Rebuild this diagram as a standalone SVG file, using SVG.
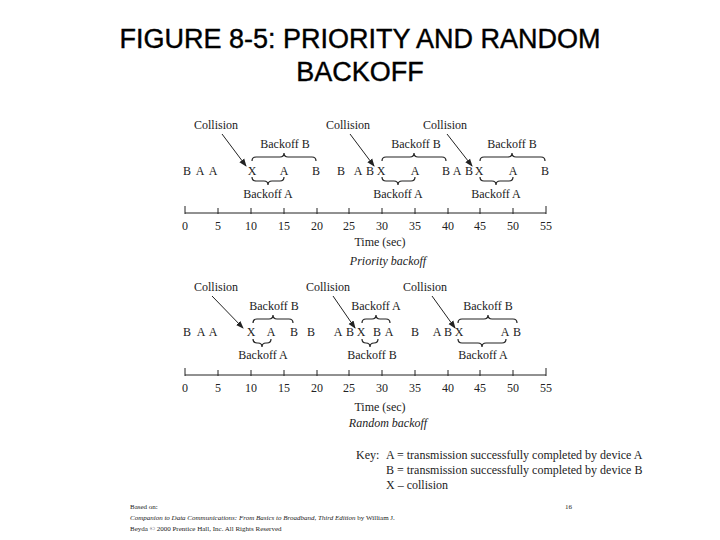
<svg xmlns="http://www.w3.org/2000/svg" width="720" height="540" viewBox="0 0 720 540">
<defs>
<style>
.t{font-family:"Liberation Serif",serif;font-size:12px;fill:#222}
.c{text-anchor:middle}
.i{font-style:italic}
.ln{stroke:#222;stroke-width:1;fill:none}
.br{stroke:#222;stroke-width:1.2;fill:none}
.title{font-family:"Liberation Sans",Arial,sans-serif;font-size:27px;fill:#000;text-anchor:middle;stroke:#000;stroke-width:0.4}
.f{font-family:"Liberation Serif",serif;font-size:7px;fill:#222}
</style>
<marker id="ah" markerWidth="8" markerHeight="8" refX="7" refY="4" orient="auto" markerUnits="userSpaceOnUse"><path d="M0,1 L8,4 L0,7 z" fill="#222"/></marker>
</defs>
<rect width="720" height="540" fill="#fff"/>
<text class="title" x="360" y="48">FIGURE 8-5: PRIORITY AND RANDOM</text>
<text class="title" x="360" y="81">BACKOFF</text>

<g id="priority">
<g class="t c">
<text x="216" y="129">Collision</text><text x="348" y="129">Collision</text><text x="445" y="129">Collision</text>
<text x="285" y="148">Backoff B</text><text x="416" y="148">Backoff B</text><text x="512" y="148">Backoff B</text>
<text x="187" y="175">B</text><text x="200" y="175">A</text><text x="213" y="175">A</text>
<text x="252" y="175">X</text><text x="284" y="175">A</text><text x="316" y="175">B</text>
<text x="341" y="175">B</text><text x="358" y="175">A</text><text x="370" y="175">B</text><text x="381" y="175">X</text><text x="415" y="175">A</text>
<text x="446" y="175">B</text><text x="457" y="175">A</text><text x="469" y="175">B</text><text x="479" y="175">X</text><text x="513" y="175">A</text><text x="545" y="175">B</text>
<text x="268" y="198">Backoff A</text><text x="398" y="198">Backoff A</text><text x="496" y="198">Backoff A</text>
<text x="185" y="230">0</text><text x="218" y="230">5</text><text x="251" y="230">10</text><text x="284" y="230">15</text><text x="317" y="230">20</text><text x="349" y="230">25</text><text x="382" y="230">30</text><text x="415" y="230">35</text><text x="448" y="230">40</text><text x="480" y="230">45</text><text x="513" y="230">50</text><text x="546" y="230">55</text>
<text x="380" y="246">Time (sec)</text>
<text x="388" y="265" class="i">Priority backoff</text>
</g>
</g>

<g id="random">
<g class="t c">
<text x="216" y="291">Collision</text><text x="328" y="291">Collision</text><text x="425" y="291">Collision</text>
<text x="274" y="310">Backoff B</text><text x="376" y="310">Backoff A</text><text x="488" y="310">Backoff B</text>
<text x="187" y="336">B</text><text x="201" y="336">A</text><text x="213" y="336">A</text>
<text x="251" y="336">X</text><text x="271" y="336">A</text><text x="294" y="336">B</text><text x="311" y="336">B</text>
<text x="338" y="336">A</text><text x="350" y="336">B</text><text x="361" y="336">X</text><text x="377" y="336">B</text><text x="389" y="336">A</text>
<text x="415" y="336">B</text><text x="437" y="336">A</text><text x="448" y="336">B</text><text x="459" y="336">X</text><text x="505" y="336">A</text><text x="517" y="336">B</text>
<text x="263" y="359">Backoff A</text><text x="372" y="359">Backoff B</text><text x="483" y="359">Backoff A</text>
<text x="185" y="392">0</text><text x="218" y="392">5</text><text x="251" y="392">10</text><text x="284" y="392">15</text><text x="317" y="392">20</text><text x="349" y="392">25</text><text x="382" y="392">30</text><text x="415" y="392">35</text><text x="448" y="392">40</text><text x="480" y="392">45</text><text x="513" y="392">50</text><text x="546" y="392">55</text>
<text x="380" y="411">Time (sec)</text>
<text x="388" y="427" class="i">Random backoff</text>
</g>
</g>

<g id="connectors">
<path class="ln" d="M222,134 L246,166" marker-end="url(#ah)"/>
<path class="ln" d="M350,134 L374,166" marker-end="url(#ah)"/>
<path class="ln" d="M447,134 L472,166" marker-end="url(#ah)"/>
<path class="ln" d="M212,296 L243,328" marker-end="url(#ah)"/>
<path class="ln" d="M333,296 L355,328" marker-end="url(#ah)"/>
<path class="ln" d="M432,296 L455,328" marker-end="url(#ah)"/>
<path class="ln" d="M185,213 H546 M185,206 V214 M218,208 V214 M251,208 V214 M284,208 V214 M317,208 V214 M349,208 V214 M382,208 V214 M415,208 V214 M448,208 V214 M480,208 V214 M513,208 V214 M546,206 V214"/>
<path class="ln" d="M185,375 H546 M185,368 V376 M218,370 V376 M251,370 V376 M284,370 V376 M317,370 V376 M349,370 V376 M382,370 V376 M415,370 V376 M448,370 V376 M480,370 V376 M513,370 V376 M546,368 V376"/>
<path class="br" d="M252,161 Q252,157 256,157 L280,157 Q284,157 284,153 Q284,157 288,157 L312,157 Q316,157 316,161"/>
<path class="br" d="M382,161 Q382,157 386,157 L410,157 Q414,157 414,153 Q414,157 418,157 L442,157 Q446,157 446,161"/>
<path class="br" d="M480,161 Q480,157 484,157 L508,157 Q512,157 512,153 Q512,157 516,157 L541,157 Q545,157 545,161"/>
<path class="br" d="M252,177 Q252,181 256,181 L264,181 Q268,181 268,185 Q268,181 272,181 L280,181 Q284,181 284,177"/>
<path class="br" d="M382,177 Q382,181 386,181 L394,181 Q398,181 398,185 Q398,181 402,181 L411,181 Q415,181 415,177"/>
<path class="br" d="M480,177 Q480,181 484,181 L492,181 Q496,181 496,185 Q496,181 500,181 L509,181 Q513,181 513,177"/>
<path class="br" d="M253,323 Q253,319 257,319 L269,319 Q273,319 273,315 Q273,319 277,319 L289,319 Q293,319 293,323"/>
<path class="br" d="M362,323 Q362,319 366,319 L372,319 Q376,319 376,315 Q376,319 380,319 L386,319 Q390,319 390,323"/>
<path class="br" d="M458,323 Q458,319 462,319 L484,319 Q488,319 488,315 Q488,319 492,319 L513,319 Q517,319 517,323"/>
<path class="br" d="M253,339 Q253,343 257,343 L258,343 Q262,343 262,347 Q262,343 266,343 L267,343 Q271,343 271,339"/>
<path class="br" d="M362,339 Q362,343 366,343 L366,343 Q370,343 370,347 Q370,343 374,343 L374,343 Q378,343 378,339"/>
<path class="br" d="M458,339 Q458,343 462,343 L478,343 Q482,343 482,347 Q482,343 486,343 L502,343 Q506,343 506,339"/>
</g>

<g id="key" class="t">
<text x="356" y="459">Key:</text>
<text x="386" y="459">A = transmission successfully completed by device A</text>
<text x="386" y="474">B = transmission successfully completed by device B</text>
<text x="386" y="489">X – collision</text>
</g>

<g id="footer" class="f">
<text x="130" y="509">Based on:</text>
<text x="130" y="520"><tspan font-style="italic">Companion to Data Communications: From Basics to Broadband, Third Edition</tspan> by William J.</text>
<text x="130" y="531">Beyda © 2000 Prentice Hall, Inc. All Rights Reserved</text>
<text x="565" y="509">16</text>
</g>
</svg>
